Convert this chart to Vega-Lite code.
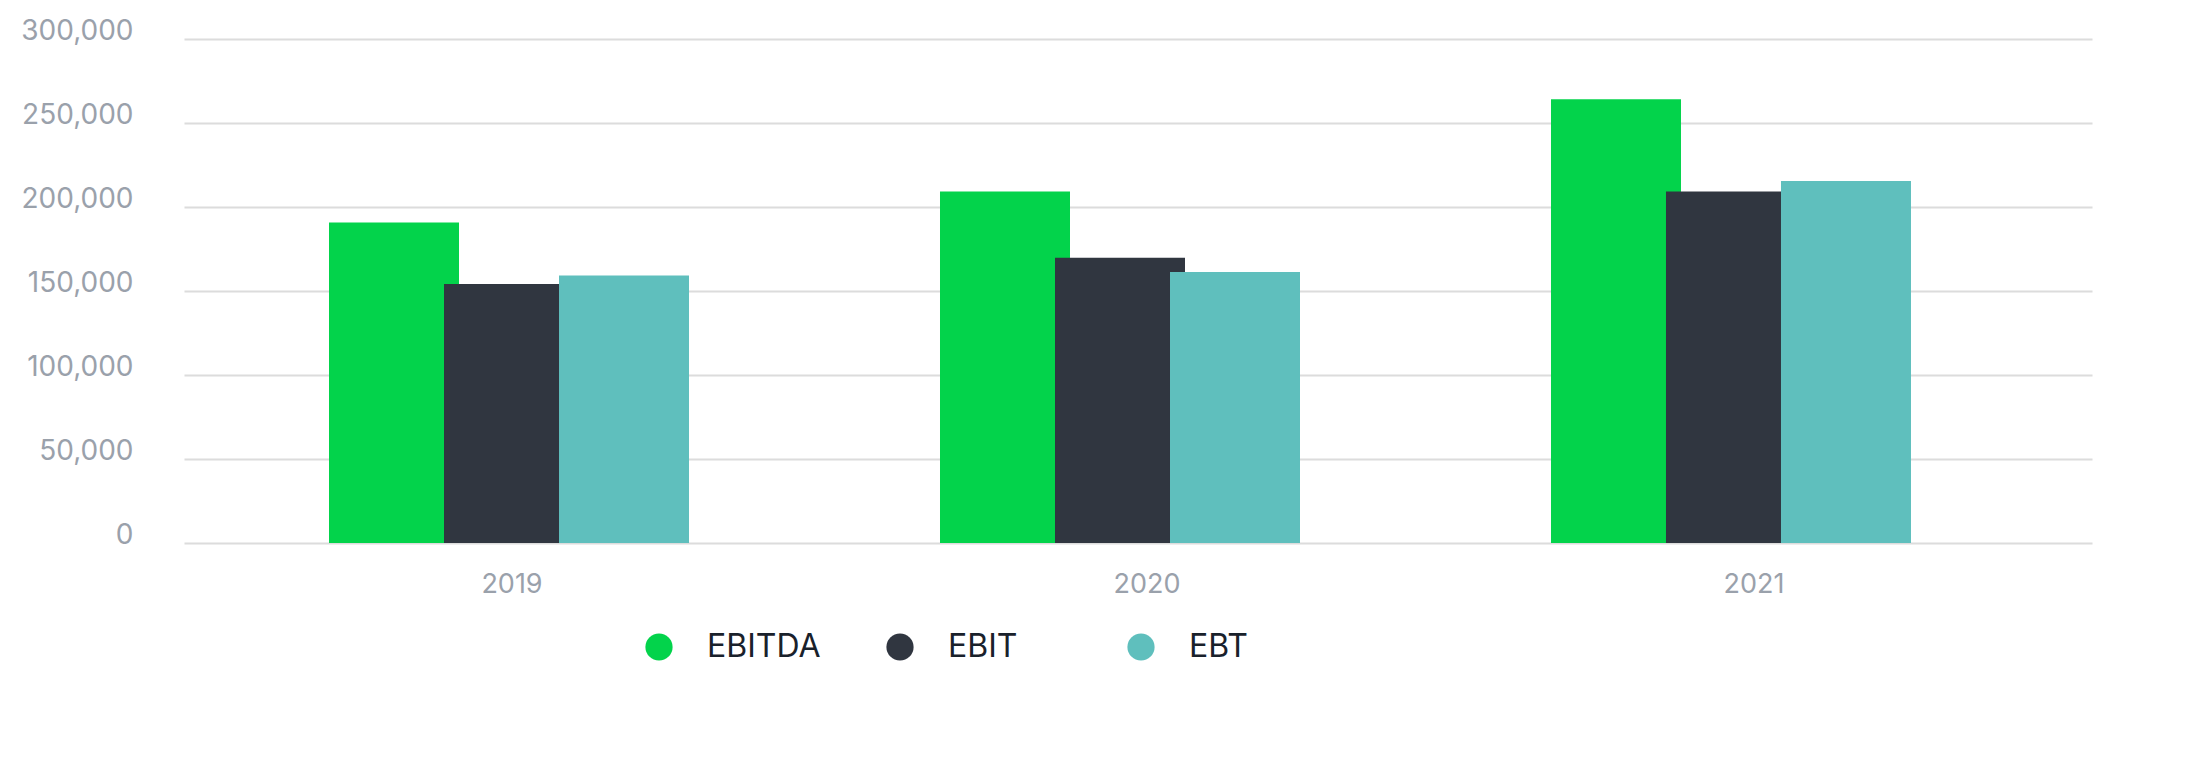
{
  "$schema": "https://vega.github.io/schema/vega-lite/v6.json",
  "autosize": {"type": "none"},
  "padding": {"left": 184, "top": 39, "right": 108, "bottom": 230},
  "width": 1908,
  "height": 504,
  "background": "#ffffff",
  "config": {"view": {"stroke": null}},
  "data": {
    "values": [
      {"year": "2019", "metric": "EBITDA", "value": 190700},
      {"year": "2019", "metric": "EBIT", "value": 154200},
      {"year": "2019", "metric": "EBT", "value": 159300},
      {"year": "2020", "metric": "EBITDA", "value": 209300},
      {"year": "2020", "metric": "EBIT", "value": 169800},
      {"year": "2020", "metric": "EBT", "value": 161300},
      {"year": "2021", "metric": "EBITDA", "value": 264100},
      {"year": "2021", "metric": "EBIT", "value": 209300},
      {"year": "2021", "metric": "EBT", "value": 215500}
    ]
  },
  "mark": {"type": "bar", "width": 130},
  "encoding": {
    "x": {
      "field": "year",
      "type": "nominal",
      "scale": {"paddingInner": 0, "paddingOuter": 0.0614, "align": 0.26},
      "axis": {
        "title": null,
        "labelAngle": 0,
        "domain": false,
        "ticks": false,
        "tickSize": 0,
        "labelPadding": 28,
        "labelFont": "Inter",
        "labelFontSize": 27,
        "labelColor": "#9aa1ab",
        "labelOffset": {"expr": "datum.value == '2020' ? 27 : datum.value == '2021' ? 23 : 3"}
      }
    },
    "xOffset": {
      "field": "metric",
      "type": "nominal",
      "sort": ["EBITDA", "EBIT", "EBT"],
      "scale": {"paddingInner": 0, "paddingOuter": 0, "range": [133, 478]}
    },
    "y": {
      "field": "value",
      "type": "quantitative",
      "scale": {"domain": [0, 300000], "nice": false},
      "axis": {
        "title": null,
        "values": [0, 50000, 100000, 150000, 200000, 250000, 300000],
        "format": ",.0f",
        "domain": false,
        "ticks": false,
        "tickSize": 0,
        "labelPadding": 51,
        "labelBaseline": "alphabetic",
        "labelFont": "Inter",
        "labelFontSize": 28,
        "labelColor": "#9aa1ab",
        "gridColor": "#dcdcdc",
        "gridWidth": 2
      }
    },
    "color": {
      "field": "metric",
      "type": "nominal",
      "sort": ["EBITDA", "EBIT", "EBT"],
      "scale": {"domain": ["EBITDA", "EBIT", "EBT"], "range": ["#03d34b", "#303640", "#5fbfbd"]},
      "legend": {
        "title": null,
        "orient": "none",
        "legendX": 459,
        "legendY": 592,
        "direction": "horizontal",
        "columns": 3,
        "gridAlign": "all",
        "columnPadding": 63,
        "padding": 0,
        "symbolType": "circle",
        "symbolSize": 740,
        "symbolStrokeWidth": 0,
        "labelOffset": 32,
        "labelFont": "Inter",
        "labelFontSize": 32,
        "labelColor": "#19212b",
        "labelLimit": 400,
        "encode": {
          "symbols": {
            "update": {
              "fill": {"signal": "datum.value === 'EBIT' ? '#464f5b' : scale('color', datum.value)"}
            }
          }
        }
      }
    }
  }
}
